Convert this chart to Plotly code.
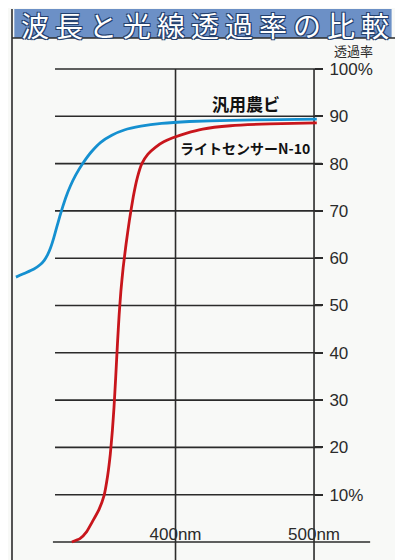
import plotly.graph_objects as go

# ---- data ----
wl_blue = [284.8, 292.0, 297.8, 302.2, 305.1, 307.6, 309.8, 312.0, 314.2, 316.4, 318.6, 321.0, 324.0, 328.0,
           333.0, 339.0, 346.0, 354.0, 363.0, 375.0, 390.0, 410.0, 440.0, 475.0, 502.0]
tr_blue = [56.0, 56.9, 57.7, 58.6, 59.5, 60.7, 62.2, 64.2, 66.5, 68.8, 70.9, 73.0, 75.2, 77.6,
           80.0, 82.4, 84.5, 86.0, 87.1, 87.9, 88.5, 88.9, 89.15, 89.3, 89.4]

wl_red = [325.1, 331.0, 335.9, 340.4, 344.8, 348.4, 351.0, 352.9, 354.4, 355.6, 356.85, 358.1, 359.3, 360.55,
          362.2, 364.3, 366.7, 369.5, 372.4, 375.7, 380.1, 385.7, 391.5, 397.6, 407.6, 419.6, 439.6, 468.0, 502.0]
tr_red = [0, 0.7, 2.2, 4.5, 6.9, 9.8, 14.0, 18.5, 23.5, 28.5, 35.0, 42.0, 48.0, 53.0,
          58.0, 63.0, 68.0, 73.0, 77.0, 80.0, 82.0, 83.5, 84.6, 85.4, 86.4, 87.3, 88.0, 88.4, 88.6]

grid_levels = [10, 20, 30, 40, 50, 60, 70, 80, 90, 100]
tick_text = ["10%", "20", "30", "40", "50", "60", "70", "80", "90", "100%"]
x_ticks = [400, 500]
x_tick_text = ["400nm", "500nm"]

series_names = ["汎用農ビ", "ライトセンサーN-10"]
title_text = "波長と光線透過率の比較"
y_title = "透過率"

BLUE = "#1590d0"
RED = "#c8161c"
INK = "#2b2b2b"
BG = "#f8f9f7"

fig = go.Figure()
fig.add_trace(go.Scatter(x=wl_blue, y=tr_blue, mode="lines",
                         line=dict(color=BLUE, width=2.8, shape="spline", smoothing=0.4),
                         name=series_names[0], showlegend=False, hoverinfo="skip"))
fig.add_trace(go.Scatter(x=wl_red, y=tr_red, mode="lines",
                         line=dict(color=RED, width=2.8, shape="spline", smoothing=0.4),
                         name=series_names[1], showlegend=False, hoverinfo="skip"))

shapes = []
# horizontal grid lines (10..100%)
for lv in grid_levels:
    shapes.append(dict(type="line", xref="x", yref="y", x0=313, x1=505.8, y0=lv, y1=lv,
                       line=dict(color=INK, width=1.6), layer="below"))
# 0% base line
shapes.append(dict(type="line", xref="x", yref="y", x0=311.5, x1=540.5, y0=0, y1=0,
                   line=dict(color=INK, width=1.6), layer="below"))
# vertical lines at 400nm and 500nm
for xv in x_ticks:
    shapes.append(dict(type="line", xref="x", yref="y", x0=xv, x1=xv, y0=-4.6, y1=100,
                       line=dict(color=INK, width=1.6), layer="below"))
# frame and title bar
shapes.append(dict(type="rect", xref="paper", yref="paper", x0=0.006, x1=0.986, y0=1.0, y1=1.0556,
                   fillcolor="#6c90c6", line=dict(width=0), layer="below"))
shapes.append(dict(type="line", xref="paper", yref="paper", x0=0, x1=0, y0=-0.02, y1=1.0556,
                   line=dict(color=INK, width=1.6)))
shapes.append(dict(type="line", xref="paper", yref="paper", x0=1, x1=1, y0=-0.02, y1=1.0556,
                   line=dict(color=INK, width=1.6)))
shapes.append(dict(type="line", xref="paper", yref="paper", x0=0, x1=1, y0=1.0, y1=1.0,
                   line=dict(color=INK, width=1.4)))

annotations = [
    dict(text='<span style="letter-spacing:6px">' + title_text + '</span>', xref="paper", yref="paper",
         x=0.5, y=1.0255, xanchor="center", yanchor="middle", xshift=3,
         showarrow=False, font=dict(family="Noto Sans CJK JP", size=28, color="white",
                                    shadow="1px 1px 0 #23406e, -1px -1px 0 #23406e, 1px -1px 0 #23406e, -1px 1px 0 #23406e")),
    dict(text=y_title, xref="x", yref="y", x=513, y=104.0, xanchor="left", yanchor="middle",
         showarrow=False, font=dict(family="Noto Sans CJK JP", size=13, color=INK)),
    dict(text=series_names[0], xref="x", yref="y", x=451, y=92.6, xanchor="center", yanchor="middle",
         showarrow=False, font=dict(family="Noto Sans CJK JP", size=17, color="#111", weight="bold")),
    dict(text=series_names[1], xref="x", yref="y", x=450, y=83.2, xanchor="center", yanchor="middle",
         showarrow=False, font=dict(family="Noto Sans CJK JP", size=14, color="#111", weight="bold")),
]

fig.update_layout(
    width=403, height=560,
    margin=dict(l=4, r=14, t=30, b=8, pad=0),
    paper_bgcolor=BG, plot_bgcolor=BG,
    shapes=shapes, annotations=annotations,
    showlegend=False,
    xaxis=dict(range=[281.95, 559.9], showgrid=False, zeroline=False, showline=False,
               tickmode="array", tickvals=x_ticks, ticktext=x_tick_text, ticks="",
               anchor="free", position=0.072, automargin=False,
               tickfont=dict(family="Liberation Sans", size=17, color=INK)),
    yaxis=dict(range=[-3.81, 106.55], showgrid=False, zeroline=False, showline=False,
               tickmode="array", tickvals=grid_levels, ticktext=tick_text,
               side="right", anchor="free", position=(314 - 12) / 385,
               ticks="outside", ticklen=8, tickwidth=1.6, tickcolor=INK, automargin=False,
               ticklabelstandoff=3,
               tickfont=dict(family="Liberation Sans", size=17, color=INK)),
)

fig.write_html("out.html")
